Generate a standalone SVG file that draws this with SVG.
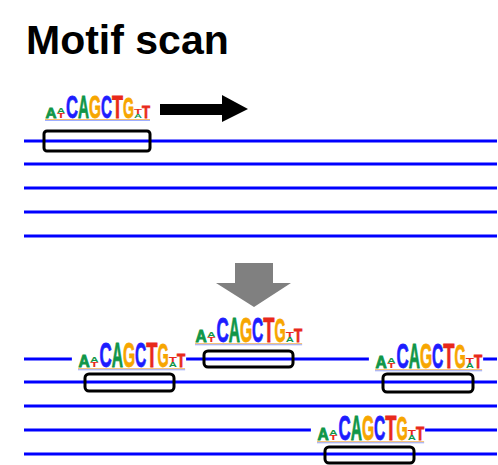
<svg xmlns="http://www.w3.org/2000/svg" width="498" height="465" viewBox="0 0 498 465">
<style>
.ln{stroke:#0000ff;stroke-width:3;fill:none}
.bx{stroke:#000;stroke-width:3;fill:none}
.lg text{font-family:"Liberation Sans",Arial,sans-serif;font-weight:bold}
.a{fill:#109648;stroke:#109648}.c{fill:#1d1dff;stroke:#1d1dff}.g{fill:#f7a600;stroke:#f7a600}.t{fill:#e8291b;stroke:#e8291b}
.lg tspan{stroke-width:0}
.lg tspan.b{stroke-width:0.8}
.bg{fill:#fff}
.s1{fill:#f0a030;opacity:.7}.s2{fill:#4060ff;opacity:.5}
</style>
<rect width="498" height="465" fill="#fff"/>
<text x="26" y="54" font-family="Liberation Sans,Arial,sans-serif" font-weight="bold" font-size="41" fill="#000">Motif scan</text>
<g id="connectors">
<line class="ln" x1="24" y1="141" x2="497" y2="141"/>
<line class="ln" x1="24" y1="164" x2="497" y2="164"/>
<line class="ln" x1="24" y1="188" x2="497" y2="188"/>
<line class="ln" x1="24" y1="212" x2="497" y2="212"/>
<line class="ln" x1="24" y1="236" x2="497" y2="236"/>
<line class="ln" x1="24" y1="359" x2="497" y2="359"/>
<line class="ln" x1="24" y1="382" x2="497" y2="382"/>
<line class="ln" x1="24" y1="406" x2="497" y2="406"/>
<line class="ln" x1="24" y1="430" x2="497" y2="430"/>
<line class="ln" x1="24" y1="454" x2="497" y2="454"/>
<polygon points="160,104 222,104 222,95 248,109 222,122 222,115 160,115" fill="#000"/>
<polygon points="235,263 273,263 273,283 291,283 254,307 216,283 235,283" fill="#808080"/>
</g>
<g id="logo1" class="lg" transform="translate(45,118)">
<rect class="bg" x="-7" y="-25" width="114" height="29"/>
<text><tspan class="a b" x="0.5" y="0" font-size="15" textLength="11" lengthAdjust="spacingAndGlyphs">A</tspan><tspan class="a" x="12" y="-5" font-size="6.5" textLength="8" lengthAdjust="spacingAndGlyphs">A</tspan><tspan class="t" x="12" y="0" font-size="6.5" textLength="8" lengthAdjust="spacingAndGlyphs">T</tspan><tspan class="c b" x="21" y="0" font-size="32" textLength="12" lengthAdjust="spacingAndGlyphs">C</tspan><tspan class="a b" x="33" y="0" font-size="32" textLength="11" lengthAdjust="spacingAndGlyphs">A</tspan><tspan class="g b" x="44" y="0" font-size="32" textLength="12" lengthAdjust="spacingAndGlyphs">G</tspan><tspan class="c b" x="56" y="0" font-size="32" textLength="11" lengthAdjust="spacingAndGlyphs">C</tspan><tspan class="t b" x="67" y="0" font-size="32" textLength="11" lengthAdjust="spacingAndGlyphs">T</tspan><tspan class="g b" x="78" y="0" font-size="30" textLength="11" lengthAdjust="spacingAndGlyphs">G</tspan><tspan class="t" x="89" y="-4" font-size="8" textLength="8" lengthAdjust="spacingAndGlyphs">T</tspan><tspan class="a" x="89" y="0" font-size="6" textLength="8" lengthAdjust="spacingAndGlyphs">A</tspan><tspan class="t b" x="97" y="0" font-size="16" textLength="8" lengthAdjust="spacingAndGlyphs">T</tspan></text>
<rect class="s1" x="0" y="1" width="105" height="1"/>
<rect class="s2" x="0" y="2" width="105" height="1"/>
</g>
<g id="box1"><rect class="bx" x="44" y="131" width="106" height="20" rx="3"/></g>
<g id="logo2" class="lg" transform="translate(78,367) scale(1.02,1.1)">
<rect class="bg" x="-6" y="-24" width="112" height="27"/>
<text><tspan class="a b" x="0.5" y="0" font-size="15" textLength="11" lengthAdjust="spacingAndGlyphs">A</tspan><tspan class="a" x="12" y="-5" font-size="6.5" textLength="8" lengthAdjust="spacingAndGlyphs">A</tspan><tspan class="t" x="12" y="0" font-size="6.5" textLength="8" lengthAdjust="spacingAndGlyphs">T</tspan><tspan class="c b" x="21" y="0" font-size="32" textLength="12" lengthAdjust="spacingAndGlyphs">C</tspan><tspan class="a b" x="33" y="0" font-size="32" textLength="11" lengthAdjust="spacingAndGlyphs">A</tspan><tspan class="g b" x="44" y="0" font-size="32" textLength="12" lengthAdjust="spacingAndGlyphs">G</tspan><tspan class="c b" x="56" y="0" font-size="32" textLength="11" lengthAdjust="spacingAndGlyphs">C</tspan><tspan class="t b" x="67" y="0" font-size="32" textLength="11" lengthAdjust="spacingAndGlyphs">T</tspan><tspan class="g b" x="78" y="0" font-size="30" textLength="11" lengthAdjust="spacingAndGlyphs">G</tspan><tspan class="t" x="89" y="-4" font-size="8" textLength="8" lengthAdjust="spacingAndGlyphs">T</tspan><tspan class="a" x="89" y="0" font-size="6" textLength="8" lengthAdjust="spacingAndGlyphs">A</tspan><tspan class="t b" x="97" y="0" font-size="16" textLength="8" lengthAdjust="spacingAndGlyphs">T</tspan></text>
<rect class="s1" x="0" y="1" width="105" height="1"/>
<rect class="s2" x="0" y="2" width="105" height="1"/>
</g>
<g id="box2"><rect class="bx" x="85" y="374" width="89" height="17" rx="4"/></g>
<g id="logo3" class="lg" transform="translate(195,342) scale(1.02,1.1)">
<rect class="bg" x="-6" y="-24" width="112" height="27"/>
<text><tspan class="a b" x="0.5" y="0" font-size="15" textLength="11" lengthAdjust="spacingAndGlyphs">A</tspan><tspan class="a" x="12" y="-5" font-size="6.5" textLength="8" lengthAdjust="spacingAndGlyphs">A</tspan><tspan class="t" x="12" y="0" font-size="6.5" textLength="8" lengthAdjust="spacingAndGlyphs">T</tspan><tspan class="c b" x="21" y="0" font-size="32" textLength="12" lengthAdjust="spacingAndGlyphs">C</tspan><tspan class="a b" x="33" y="0" font-size="32" textLength="11" lengthAdjust="spacingAndGlyphs">A</tspan><tspan class="g b" x="44" y="0" font-size="32" textLength="12" lengthAdjust="spacingAndGlyphs">G</tspan><tspan class="c b" x="56" y="0" font-size="32" textLength="11" lengthAdjust="spacingAndGlyphs">C</tspan><tspan class="t b" x="67" y="0" font-size="32" textLength="11" lengthAdjust="spacingAndGlyphs">T</tspan><tspan class="g b" x="78" y="0" font-size="30" textLength="11" lengthAdjust="spacingAndGlyphs">G</tspan><tspan class="t" x="89" y="-4" font-size="8" textLength="8" lengthAdjust="spacingAndGlyphs">T</tspan><tspan class="a" x="89" y="0" font-size="6" textLength="8" lengthAdjust="spacingAndGlyphs">A</tspan><tspan class="t b" x="97" y="0" font-size="16" textLength="8" lengthAdjust="spacingAndGlyphs">T</tspan></text>
<rect class="s1" x="0" y="1" width="105" height="1"/>
<rect class="s2" x="0" y="2" width="105" height="1"/>
</g>
<g id="box3"><rect class="bx" x="204" y="351" width="89" height="16" rx="4"/></g>
<g id="logo4" class="lg" transform="translate(375,368) scale(1.02,1.1)">
<rect class="bg" x="-6" y="-24" width="112" height="27"/>
<text><tspan class="a b" x="0.5" y="0" font-size="15" textLength="11" lengthAdjust="spacingAndGlyphs">A</tspan><tspan class="a" x="12" y="-5" font-size="6.5" textLength="8" lengthAdjust="spacingAndGlyphs">A</tspan><tspan class="t" x="12" y="0" font-size="6.5" textLength="8" lengthAdjust="spacingAndGlyphs">T</tspan><tspan class="c b" x="21" y="0" font-size="32" textLength="12" lengthAdjust="spacingAndGlyphs">C</tspan><tspan class="a b" x="33" y="0" font-size="32" textLength="11" lengthAdjust="spacingAndGlyphs">A</tspan><tspan class="g b" x="44" y="0" font-size="32" textLength="12" lengthAdjust="spacingAndGlyphs">G</tspan><tspan class="c b" x="56" y="0" font-size="32" textLength="11" lengthAdjust="spacingAndGlyphs">C</tspan><tspan class="t b" x="67" y="0" font-size="32" textLength="11" lengthAdjust="spacingAndGlyphs">T</tspan><tspan class="g b" x="78" y="0" font-size="30" textLength="11" lengthAdjust="spacingAndGlyphs">G</tspan><tspan class="t" x="89" y="-4" font-size="8" textLength="8" lengthAdjust="spacingAndGlyphs">T</tspan><tspan class="a" x="89" y="0" font-size="6" textLength="8" lengthAdjust="spacingAndGlyphs">A</tspan><tspan class="t b" x="97" y="0" font-size="16" textLength="8" lengthAdjust="spacingAndGlyphs">T</tspan></text>
<rect class="s1" x="0" y="1" width="105" height="1"/>
<rect class="s2" x="0" y="2" width="105" height="1"/>
</g>
<g id="box4"><rect class="bx" x="383" y="374" width="90" height="18" rx="4"/></g>
<g id="logo5" class="lg" transform="translate(317,440) scale(1.02,1.1)">
<rect class="bg" x="-6" y="-24" width="112" height="27"/>
<text><tspan class="a b" x="0.5" y="0" font-size="15" textLength="11" lengthAdjust="spacingAndGlyphs">A</tspan><tspan class="a" x="12" y="-5" font-size="6.5" textLength="8" lengthAdjust="spacingAndGlyphs">A</tspan><tspan class="t" x="12" y="0" font-size="6.5" textLength="8" lengthAdjust="spacingAndGlyphs">T</tspan><tspan class="c b" x="21" y="0" font-size="32" textLength="12" lengthAdjust="spacingAndGlyphs">C</tspan><tspan class="a b" x="33" y="0" font-size="32" textLength="11" lengthAdjust="spacingAndGlyphs">A</tspan><tspan class="g b" x="44" y="0" font-size="32" textLength="12" lengthAdjust="spacingAndGlyphs">G</tspan><tspan class="c b" x="56" y="0" font-size="32" textLength="11" lengthAdjust="spacingAndGlyphs">C</tspan><tspan class="t b" x="67" y="0" font-size="32" textLength="11" lengthAdjust="spacingAndGlyphs">T</tspan><tspan class="g b" x="78" y="0" font-size="30" textLength="11" lengthAdjust="spacingAndGlyphs">G</tspan><tspan class="t" x="89" y="-4" font-size="8" textLength="8" lengthAdjust="spacingAndGlyphs">T</tspan><tspan class="a" x="89" y="0" font-size="6" textLength="8" lengthAdjust="spacingAndGlyphs">A</tspan><tspan class="t b" x="97" y="0" font-size="16" textLength="8" lengthAdjust="spacingAndGlyphs">T</tspan></text>
<rect class="s1" x="0" y="1" width="105" height="1"/>
<rect class="s2" x="0" y="2" width="105" height="1"/>
</g>
<g id="box5"><rect class="bx" x="325" y="447" width="89" height="16" rx="4"/></g>
</svg>
